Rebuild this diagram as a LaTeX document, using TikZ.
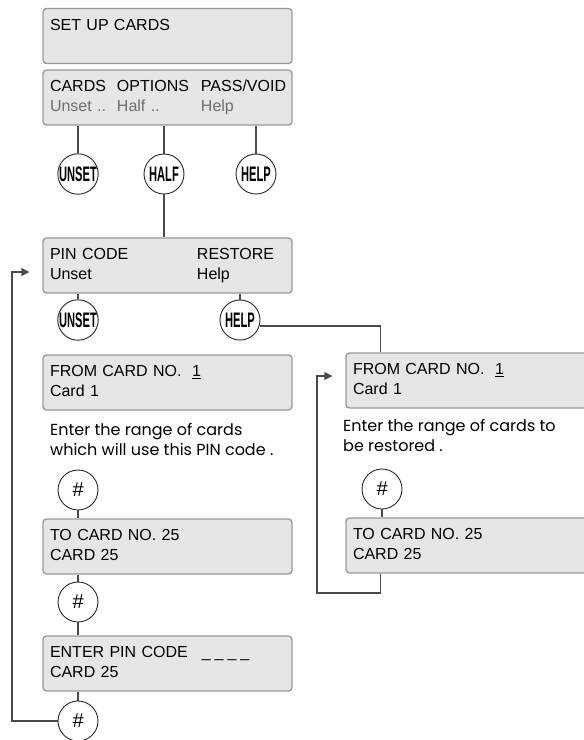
\documentclass[tikz,border=0pt]{standalone}
\usepackage{fontspec}
\usepackage{graphicx}
\setmainfont{Liberation Sans}
\newfontfamily\notefont{Poppins}
\usetikzlibrary{arrows.meta,positioning}

\definecolor{boxfill}{HTML}{E6E6E6}
\definecolor{boxline}{HTML}{9A9A9A}
\definecolor{wirecol}{HTML}{4A4A4A}
\definecolor{dimtext}{HTML}{6E6E6E}

\newcommand{\keylabel}[1]{\scalebox{0.53}[1]{\fontsize{21}{21}\selectfont\bfseries #1}}
\newcommand{\twoline}[2]{\strut#1\\\strut#2}

\begin{document}
\begin{tikzpicture}[x=1pt, y=-1pt,
  panel/.style={draw=boxline, line width=1.4pt, fill=boxfill, rounded corners=3.5pt,
    minimum width=249pt, minimum height=55pt, text width=235pt, inner xsep=7pt,
    align=left, font=\fontsize{16}{20}\selectfont},
  key/.style={circle, draw=black!85, line width=0.9pt, fill=white, minimum size=40pt, inner sep=0pt},
  hash/.style={key, font=\fontsize{20}{20}\selectfont\itshape},
  note/.style={align=left, inner sep=0pt, font=\notefont\fontsize{16}{20}\selectfont},
  wire/.style={draw=wirecol, line width=1.6pt},
  arrow/.style={wire, -{Triangle[length=8pt,width=8pt]}}
]
\useasboundingbox (0,0) rectangle (584,740);

% display panels
\node[panel] (setup) at (167.5,36) {\twoline{SET UP CARDS}{}};
\node[panel] (menu) at (167.5,97.5) {\twoline{\makebox[67pt][l]{CARDS}\makebox[84pt][l]{OPTIONS}PASS/VOID}{\color{dimtext}\makebox[67pt][l]{Unset ..}\makebox[84pt][l]{Half ..}Help}};
\node[panel] (pin) at (167.5,265.5) {\twoline{\makebox[147pt][l]{PIN CODE}RESTORE}{\makebox[147pt][l]{Unset}Help}};
\node[panel] (lfrom) at (167.5,382.5) {\twoline{FROM CARD NO.\ \ \underline{1}}{Card 1}};
\node[panel] (lto) at (167.5,546.5) {\twoline{TO CARD NO. 25}{CARD 25}};
\node[panel] (lenter) at (167.5,663.5) {\twoline{ENTER PIN CODE\hspace{14pt}\_\hspace{4pt}\_\hspace{4pt}\_\hspace{4pt}\_}{CARD 25}};
\node[panel] (rfrom) at (470.5,380.5) {\twoline{FROM CARD NO.\ \ \underline{1}}{Card 1}};
\node[panel] (rto) at (470.5,545.5) {\twoline{TO CARD NO. 25}{CARD 25}};

% prompts
\node[note, anchor=north west] (lnote) at (50,423) {Enter the range of cards\\which will use this PIN code .};
\node[note, anchor=north west] (rnote) at (343,419) {Enter the range of cards to\\be restored .};

% keys
\node[key] (unset1) at (78,174) {\keylabel{UNSET}};
\node[key] (half) at (164,174) {\keylabel{HALF}};
\node[key] (help1) at (256,174) {\keylabel{HELP}};
\node[key] (unset2) at (78,320) {\keylabel{UNSET}};
\node[key] (help2) at (240,320) {\keylabel{HELP}};
\node[hash] (h1) at (78,490) {\#};
\node[hash] (h2) at (78,602) {\#};
\node[hash] (h3) at (78,721) {\#};
\node[hash] (h4) at (382,489) {\#};

% connectors
\foreach \k in {unset1,half,help1}
  \draw[wire] (\k) -- (\k |- menu.south);
\draw[wire] (half) -- (half |- pin.north);
\foreach \k in {unset2,help2}
  \draw[wire] (\k) -- (\k |- pin.south);
\foreach \a/\b in {h1/lto.north, h2/lto.south, h2/lenter.north, h3/lenter.south, h4/rto.north}
  \draw[wire] (\a) -- (\a |- \b);
\draw[wire] (help2.-17) -| ([xshift=35pt]rfrom.north west);

% loops back
\coordinate (lback) at (12,723);
\coordinate (rback) at (317,593);
\draw[arrow] (h3.west) -- (h3.west -| lback) |- ([xshift=-13pt,yshift=-6.5pt]pin.west);
\draw[arrow] ([xshift=35pt]rto.south west) |- (rback) |- ([xshift=-13pt,yshift=4.5pt]rfrom.west);
\end{tikzpicture}
\end{document}
